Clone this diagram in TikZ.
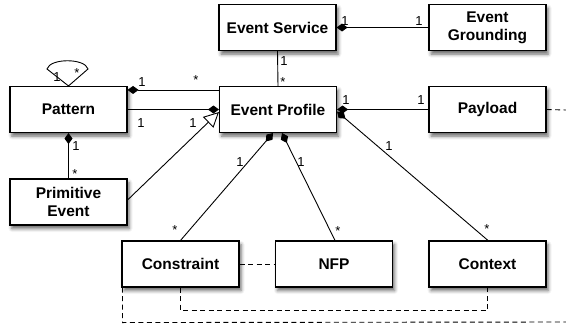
\documentclass[tikz,border=0pt]{standalone}
\usepackage{fontspec}
\setmainfont{Liberation Sans}
\usetikzlibrary{arrows.meta,shadows.blur,calc}
\begin{document}
\begin{tikzpicture}[x=1pt,y=-1pt,
  cls/.style={draw,line width=1.1pt,fill=white,minimum width=117pt,minimum height=46pt,
    align=center,inner sep=0pt,font=\fontsize{15.5}{18}\selectfont\bfseries,
    blur shadow={shadow xshift=2pt,shadow yshift=-3.5pt,shadow blur radius=3.5pt,shadow opacity=60}},
  lab/.style={font=\fontsize{13}{15}\selectfont,inner sep=0pt},
  conn/.style={line width=0.9pt},
  comp/.style={conn,{Diamond[length=11pt,width=8pt]}-},
  gen/.style={conn,-{Triangle[open,length=15pt,width=15pt,line width=0.9pt,fill=white]}},
  dep/.style={conn,dash pattern=on 5pt off 3.5pt}]
\useasboundingbox (0,0) rectangle (566,332);
% classes
\node[cls] (es) at (277.5,27.5) {Event Service};
\node[cls] (eg) at (487.5,27.5) {Event\\Grounding};
\node[cls] (pat) at (68.5,109.5) {Pattern};
\node[cls] (ep) at (278,109.5) {Event Profile};
\node[cls] (pay) at (487.5,109.5) {Payload};
\node[cls] (pe) at (68.5,202) {Primitive\\Event};
\node[cls] (con) at (180.5,264) {Constraint};
\node[cls] (nfp) at (334,264) {NFP};
\node[cls] (ctx) at (487.5,264) {Context};
% edge coordinates
\coordinate (r1) at (566,110);
\coordinate (r2) at (566,322);
% associations
\draw[comp] (es.east) -- (eg.west);
\draw[conn] (es.south) -- (ep.north);
\draw[comp] ($(pat.north east)+(0,4)$) -- ($(ep.north west)+(0,4)$);
\draw[conn,-{Diamond[length=11pt,width=8pt]}] (pat.east) -- (ep.west);
\draw[gen] ($(pe.east)+(0,-2)$) -- ($(ep.west)+(0,2.5)$);
\draw[comp] (pat.south) -- (pe.north);
\draw[conn] (pat.north) -- (47,69) .. controls (50,58) and (85,58) .. (88,69) -- (pat.north);
\draw[comp] (ep.east) -- (pay.west);
\draw[comp] ($(ep.south)+(-5,0)$) -- (con.north);
\draw[comp] ($(ep.south)+(4,0)$) -- ($(nfp.north)+(1,0)$);
\draw[comp] ($(ep.east)+(0,2)$) -- ($(ctx.north)+(0.5,0)$);
% dependencies
\draw[dep] (pay.east) -- (r1);
\draw[dep] (con.east) -- (nfp.west);
\draw[dep] (con.south) -- ++(0,23) -| (ctx.south);
\draw[dep] ($(con.south west)+(1,0)$) -- ++(0,35) -- (r2);
% multiplicities
\node[lab] (m1) at (345,21) {1};
\node[lab] (m2) at (419,21) {1};
\node[lab] (m3) at (284,61) {1};
\node[lab] (m4) at (283,82) {*};
\node[lab] (m5) at (142,82) {1};
\node[lab] (m6) at (196,80) {*};
\node[lab] (m7) at (141,123) {1};
\node[lab] (m8) at (193,123) {1};
\node[lab] (m9) at (76,146) {1};
\node[lab] (m10) at (75,174) {*};
\node[lab] (m11) at (57,77) {1};
\node[lab] (m12) at (77,73) {*};
\node[lab] (m13) at (346,100) {1};
\node[lab] (m14) at (421,100) {1};
\node[lab] (m15) at (240,162) {1};
\node[lab] (m16) at (175,230) {*};
\node[lab] (m17) at (301,162) {1};
\node[lab] (m18) at (338,231) {*};
\node[lab] (m19) at (389,146) {1};
\node[lab] (m20) at (487,229) {*};
\end{tikzpicture}
\end{document}
